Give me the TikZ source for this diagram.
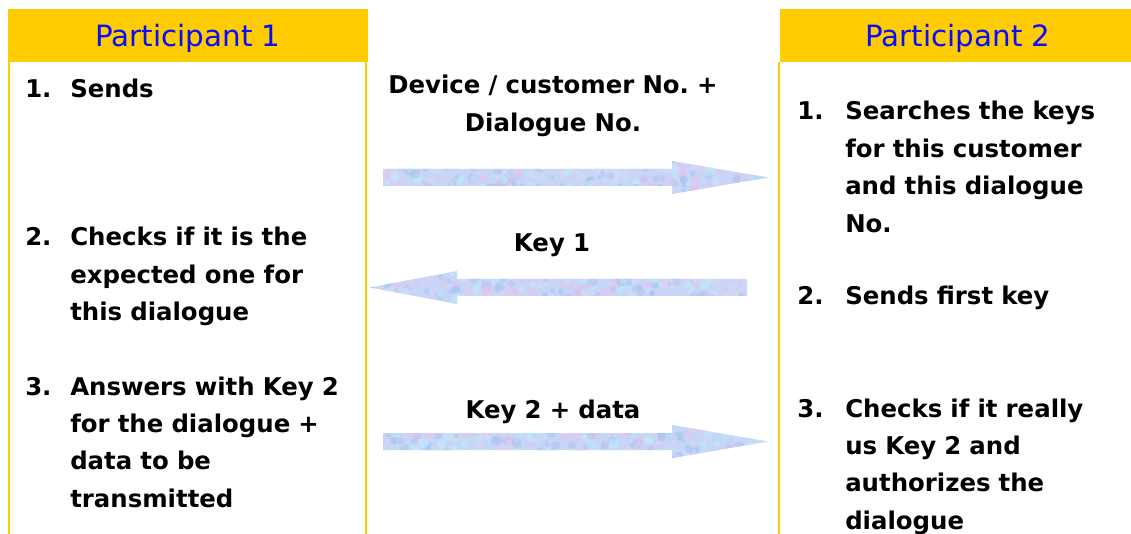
\documentclass[tikz,border=0pt]{standalone}
\usepackage{fontspec}
\setmainfont{DejaVu Sans}
\usetikzlibrary{calc}
\frenchspacing
\definecolor{hdr}{HTML}{FFCC00}
\definecolor{hdrtext}{HTML}{0A0AFF}
\definecolor{arbase}{HTML}{C6D6F7}
\definecolor{spkA}{HTML}{E4C4EC}
\definecolor{spkB}{HTML}{C0ECFA}
\definecolor{spkC}{HTML}{A9C2F2}
\definecolor{spkD}{HTML}{DCD4F6}
\newcommand\bodyfont{\fontsize{18.3pt}{28.1pt}\selectfont\bfseries}
\newcommand\rarrowpath[2]{($(#1)+(0,-8.5)$) -- ($(#2)+(-96,-8.5)$) -- ($(#2)+(-96,-16.5)$) -- (#2) -- ($(#2)+(-96,16.5)$) -- ($(#2)+(-96,8.5)$) -- ($(#1)+(0,8.5)$) -- cycle}
\newcommand\larrowpath[2]{($(#1)+(0,-8.5)$) -- ($(#2)+(87,-8.5)$) -- ($(#2)+(87,-16.5)$) -- (#2) -- ($(#2)+(87,16.5)$) -- ($(#2)+(87,8.5)$) -- ($(#1)+(0,8.5)$) -- cycle}
\newcommand\specks[4]{%
  \fill[arbase] (#1,#2) rectangle (#3,#4);
  \foreach \k in {1,...,360}{%
    \pgfmathsetmacro\px{#1+rnd*(#3-#1)}%
    \pgfmathsetmacro\py{#2+rnd*(#4-#2)}%
    \pgfmathsetmacro\rr{1.5+2.5*rnd}%
    \pgfmathtruncatemacro\cc{int(4*rnd)}%
    \ifcase\cc \def\spk{spkA}\or \def\spk{spkB}\or \def\spk{spkC}\else \def\spk{spkD}\fi
    \fill[\spk, opacity=.5] (\px,\py) circle (\rr pt);
  }}
\begin{document}
\begin{tikzpicture}[x=0.75pt,y=-0.75pt,
  header/.style={fill=hdr, draw=none},
  hdrlabel/.style={text=hdrtext, font=\fontsize{22pt}{26pt}\selectfont, inner sep=0, anchor=base},
  colline/.style={draw=hdr, line width=1.5pt},
  num/.style={font=\bodyfont, inner sep=0, anchor=base west},
  item/.style={font=\bodyfont, inner sep=0, anchor=base west, text width=300*0.75pt, align=left},
  msg/.style={font=\bodyfont, inner sep=0, anchor=base, text width=380*0.75pt, align=center}]
\useasboundingbox (0,0) rectangle (1131,534);
\pgfmathsetseed{11}
% columns
\draw[colline] (9,62) -- (9,545);
\draw[colline] (366,62) -- (366,545);
\draw[colline] (779,62) -- (779,545);
\fill[header] (8,9) rectangle (368,62);
\fill[header] (780,9) rectangle (1131,62);
\node[hdrlabel] (h1) at (188,47) {Participant 1};
\node[hdrlabel] (h2) at (958,47) {Participant 2};
% participant 1 items
\node[num] (l1n) at (25,98) {1.};
\node[item] (l1) at (70,98) {Sends};
\node[num] (l2n) at (25,246) {2.};
\node[item] (l2) at (70,246) {Checks if it is the\\expected one for\\this dialogue};
\node[num] (l3n) at (25,395) {3.};
\node[item] (l3) at (70,395) {Answers with Key 2\\for the dialogue +\\data to be\\transmitted};
% participant 2 items
\node[num] (r1n) at (797,120) {1.};
\node[item] (r1) at (845,120) {Searches the keys\\for this customer\\and this dialogue\\No.};
\node[num] (r2n) at (797,305) {2.};
\node[item] (r2) at (845,305) {Sends first key};
\node[num] (r3n) at (797,417) {3.};
\node[item] (r3) at (845,417) {Checks if it really\\us Key 2 and\\authorizes the\\dialogue};
% messages
\node[msg] (m1) at (553,94) {Device / customer No. +\\Dialogue No.};
\node[msg] (m2) at (552,252) {Key 1};
\node[msg] (m3) at (553,418) {Key 2 + data};
% block arrows
\coordinate (a1s) at (383,177.5); \coordinate (a1e) at (768,177.5);
\coordinate (a2s) at (747,287.5); \coordinate (a2e) at (370,287.5);
\coordinate (a3s) at (383,441.5); \coordinate (a3e) at (768,441.5);
\begin{scope}
  \clip \rarrowpath{a1s}{a1e};
  \specks{380}{158}{770}{197}
\end{scope}
\begin{scope}
  \clip \larrowpath{a2s}{a2e};
  \specks{368}{268}{750}{307}
\end{scope}
\begin{scope}
  \clip \rarrowpath{a3s}{a3e};
  \specks{380}{422}{770}{461}
\end{scope}
\end{tikzpicture}
\end{document}
